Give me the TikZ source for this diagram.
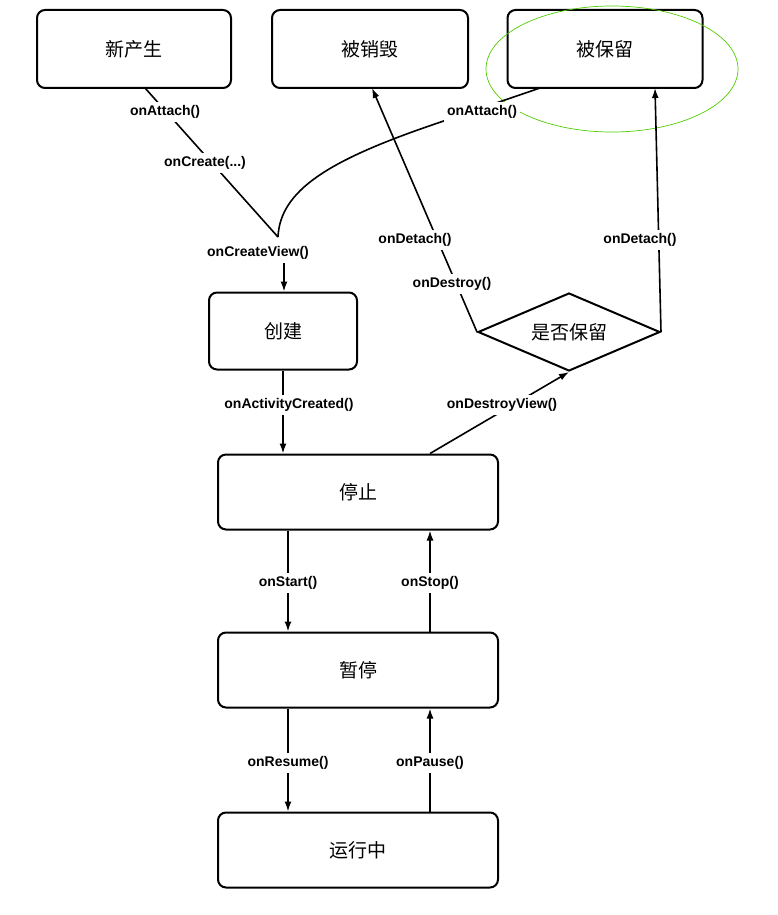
\documentclass[tikz,border=0pt]{standalone}
\usepackage{fontspec}
\setmainfont{Liberation Sans}
\newfontfamily\cjk{Noto Sans CJK SC}
\usetikzlibrary{shapes.geometric,arrows.meta}
\begin{document}
\begin{tikzpicture}[x=1pt,y=-1pt,
  box/.style={draw,line width=2pt,rounded corners=8pt,font=\cjk\fontsize{19}{19}\selectfont},
  lab/.style={fill=white,inner sep=3pt,font=\bfseries\fontsize{14}{14}\selectfont},
  con/.style={line width=1.6pt},
  arr/.style={con,-{Latex[length=10pt,width=7pt]}}]
\useasboundingbox (0,0) rectangle (778,915);
\node[box,minimum width=194pt,minimum height=78pt] (new) at (134,49) {新产生};
\node[box,minimum width=196pt,minimum height=78pt] (dest) at (370,49) {被销毁};
\node[box,minimum width=195pt,minimum height=78pt] (kept) at (605,49) {被保留};
\draw[color=green!60!yellow!80!black,line width=0.7pt] (612,69) ellipse (126pt and 63pt);
\node[box,minimum width=148pt,minimum height=77pt] (create) at (283,331) {创建};
\node[draw,line width=2pt,diamond,aspect=2.4,minimum width=182pt,minimum height=78pt,inner sep=0pt,font=\cjk\fontsize{19}{19}\selectfont] (dia) at (569,332) {是否保留};
\node[box,minimum width=280pt,minimum height=75pt] (stop) at (358,492) {停止};
\node[box,minimum width=280pt,minimum height=75pt] (pause) at (358,670) {暂停};
\node[box,minimum width=280pt,minimum height=75pt] (run) at (358,850) {运行中};
\coordinate (j) at (278,237);
\coordinate (a1) at (145,88);
\coordinate (a2) at (540,88);
\coordinate (a3) at (432,125);
\draw[con] (a1) -- (j);
\draw[con] (a2) -- (a3) .. controls (330,160) and (280,190) .. (j);
\draw[arr] (284,262) -- (create.north -| 284,0);
\draw[arr] (dia.west) -- (372,88);
\draw[arr] (dia.east) -- (655,88);
\draw[arr] (create.south) -- (stop.north -| create.south);
\draw[arr] (stop.north -| 430,0) -- (dia.south);
\draw[arr] (stop.south -| 288,0) -- (pause.north -| 288,0);
\draw[arr] (pause.north -| 430,0) -- (stop.south -| 430,0);
\draw[arr] (pause.south -| 288,0) -- (run.north -| 288,0);
\draw[arr] (run.north -| 430,0) -- (pause.south -| 430,0);
\node[lab] (l1) at (165,112) {onAttach()};
\node[lab] (l2) at (205,163) {onCreate(...)};
\node[lab] (l3) at (258,253) {onCreateView()};
\node[lab] (l4) at (482,112) {onAttach()};
\node[lab] (l5) at (415,240) {onDetach()};
\node[lab] (l6) at (452,284) {onDestroy()};
\node[lab] (l7) at (640,240) {onDetach()};
\node[lab] (l8) at (289,405) {onActivityCreated()};
\node[lab] (l9) at (502,405) {onDestroyView()};
\node[lab] (l10) at (288,583) {onStart()};
\node[lab] (l11) at (430,583) {onStop()};
\node[lab] (l12) at (288,763) {onResume()};
\node[lab] (l13) at (430,763) {onPause()};
\end{tikzpicture}
\end{document}
